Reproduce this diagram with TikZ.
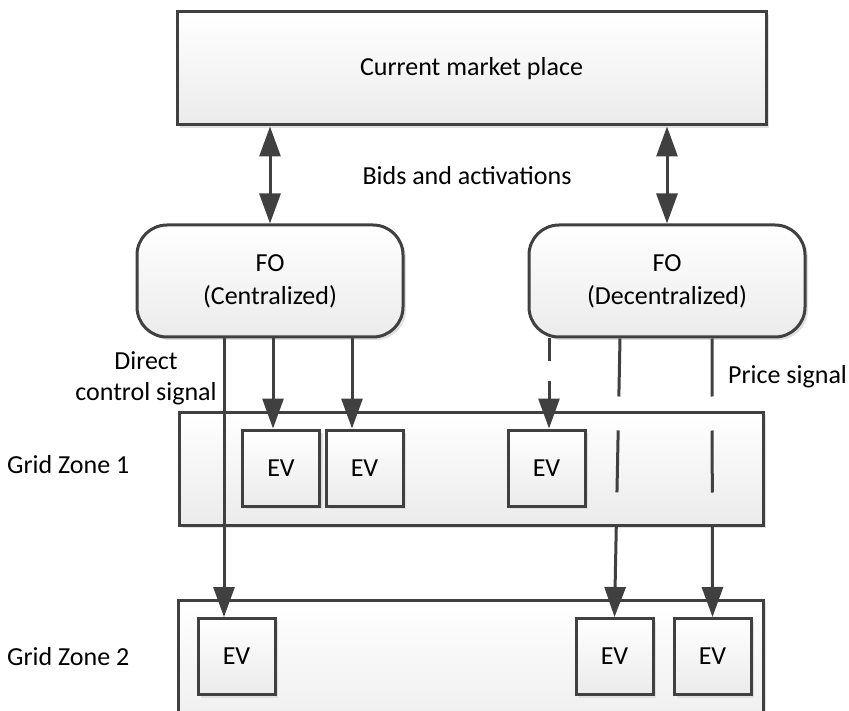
\documentclass[tikz,border=0pt]{standalone}
\usepackage{fontspec}
\setmainfont{Carlito}
\usetikzlibrary{arrows.meta,shadows}
\definecolor{ln}{HTML}{404040}
\definecolor{fillbot}{HTML}{EBEBEB}
\tikzset{
  box/.style={draw=ln, line width=3pt, top color=white, bottom color=fillbot,
    drop shadow={shadow xshift=3pt, shadow yshift=-3pt, fill=black!12, opacity=1},
    inner sep=0pt, font=\fontsize{26}{33}\selectfont, align=center},
  rbox/.style={box, rounded corners=30pt, minimum height=112pt},
  evbox/.style={box, minimum width=77pt, minimum height=76pt},
  zonebox/.style={box},
  lbl/.style={inner sep=0pt, font=\fontsize{26}{31}\selectfont, text=black},
  arr/.style={draw=ln, line width=3pt, -{Triangle[length=30pt,width=21pt]}},
  dbl/.style={draw=ln, line width=3pt, {Triangle[length=30pt,width=21pt]}-{Triangle[length=30pt,width=21pt]}},
}
\begin{document}
\begin{tikzpicture}[x=1pt,y=-1pt]
\useasboundingbox (0,0) rectangle (849,711);
\clip (0,0) rectangle (849,711);
% top
\node[box, minimum width=589pt, minimum height=113pt] (mkt) at (471.5,68.5) {Current market place};
% FO boxes
\node[rbox, minimum width=266pt] (fo1) at (270,281) {FO\\(Centralized)};
\node[rbox, minimum width=276pt] (fo2) at (667,281) {FO\\(Decentralized)};
% zones
\node[zonebox, minimum width=584pt, minimum height=113pt] (z1) at (471,468.5) {};
\node[zonebox, minimum width=585pt, minimum height=150pt] (z2) at (470.5,675) {};
% EVs
\node[evbox] (e11) at (281,468) {EV};
\node[evbox] (e12) at (364.5,468) {EV};
\node[evbox] (e13) at (546.5,468) {EV};
\node[evbox] (e21) at (236.5,656.5) {EV};
\node[evbox] (e22) at (614.5,656.5) {EV};
\node[evbox] (e23) at (712.5,656.5) {EV};
% labels
\node[lbl, anchor=base] (bids) at (467,185) {Bids and activations};
\node[lbl, align=center] (dcs) at (146,378) {Direct\\control signal};
\node[lbl, anchor=base west] (ps) at (728,383) {Price signal};
\node[lbl, anchor=base west] (gz1) at (7,473) {Grid Zone 1};
\node[lbl, anchor=base west] (gz2) at (7,665) {Grid Zone 2};
% bids arrows
\draw[dbl] (mkt.south -| fo1.north) -- (fo1.north);
\draw[dbl] (mkt.south -| fo2.north) -- (fo2.north);
% centralized
\draw[arr] (fo1.south -| 224,0) -- (e21.north -| 224,0);
\draw[arr] (fo1.south -| 273,0) -- (e11.north -| 273,0);
\draw[arr] (fo1.south -| 352,0) -- (e12.north -| 352,0);
% decentralized
\draw[arr, dash pattern=on 23pt off 19pt on 300pt] (fo2.south -| 549,0) -- (e13.north -| 549,0);
\draw[arr, dash pattern=on 58pt off 34pt on 62pt off 34pt on 300pt] (fo2.south -| 620,0) -- (e22.north);
\draw[arr, dash pattern=on 58pt off 34pt on 62pt off 34pt on 300pt] (fo2.south -| 712,0) -- (e23.north);
\end{tikzpicture}
\end{document}
